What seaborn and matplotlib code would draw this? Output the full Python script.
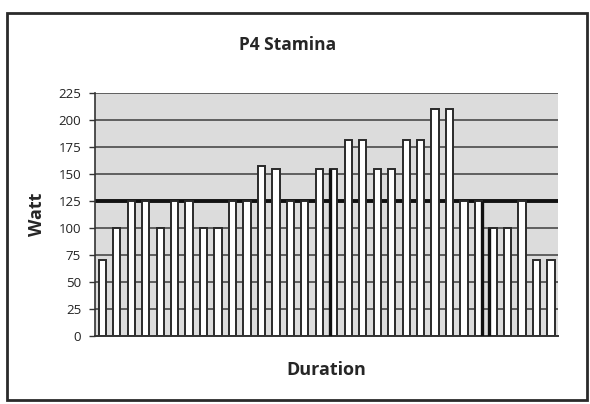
import seaborn as sns
import matplotlib.pyplot as plt
from matplotlib.patches import Rectangle

import pandas as pd

### data (one bar per step)
steps = list(range(1, 33))
watts = [
    70, 100, 125, 125, 100, 125, 125, 100, 100, 125, 125, 157, 155, 125, 125, 155,
    155, 181, 181, 155, 155, 181, 181, 210, 210, 125, 125, 100, 100, 125, 70, 70,
]
yticks = [0, 25, 50, 75, 100, 125, 150, 175, 200, 225]
target = 125

df = pd.DataFrame({"step": steps, "watt": watts})

### Graph
sns.set_style("white")
plt.rcParams["font.family"] = ["Open Sans", "DejaVu Sans"]

fig = plt.figure(figsize=(5.9, 4.04), dpi=100)
ax = fig.add_axes([0.161, 0.168, 0.785, 0.602])
ax.set_facecolor("#dcdcdc")

for v in yticks[1:]:
    ax.axhline(v, color="#4a4a4a", lw=1.2, zorder=0)
ax.axhline(target, color="#111111", lw=2.8, zorder=0.5)

sns.barplot(
    data=df,
    x="step",
    y="watt",
    color="white",
    saturation=1,
    edgecolor="#2a2a2a",
    linewidth=1.4,
    width=0.5,
    ax=ax,
    zorder=2,
)

# a few bar edges are drawn heavier in the original
bars = ax.patches
for i, side in [(16, "left"), (26, "right"), (27, "left")]:
    p = bars[i]
    xe = p.get_x() if side == "left" else p.get_x() + p.get_width()
    ax.vlines(xe, 0, p.get_height(), color="#111111", lw=2.4, zorder=3)

ax.set_xlim(-0.5, len(steps) - 0.5)
ax.set_ylim(0, 225)
ax.set_yticks(yticks)
ax.set_yticklabels([str(v) for v in yticks], fontsize=9.5, color="#222222")
ax.set_xticks([])
ax.tick_params(axis="y", length=4, width=1, color="#333333", pad=6, left=True)

for s in ["top", "right"]:
    ax.spines[s].set_visible(False)
ax.spines["left"].set_color("#333333")
ax.spines["left"].set_linewidth(1.2)
ax.spines["bottom"].set_color("#333333")
ax.spines["bottom"].set_linewidth(1.4)

ax.set_xlabel("Duration", fontsize=13, fontweight="bold", labelpad=18)
ax.set_ylabel("Watt", fontsize=13, fontweight="bold", labelpad=9)
fig.text(0.487, 0.888, "P4 Stamina", ha="center", va="center",
         fontsize=12.5, fontweight="bold")

# outer frame around the whole chart
fig.patches.append(Rectangle((0.012, 0.01), 0.983, 0.959, transform=fig.transFigure,
                             fill=False, edgecolor="#2a2a2a", lw=2.0))

fig.savefig("out.png", dpi=100)
